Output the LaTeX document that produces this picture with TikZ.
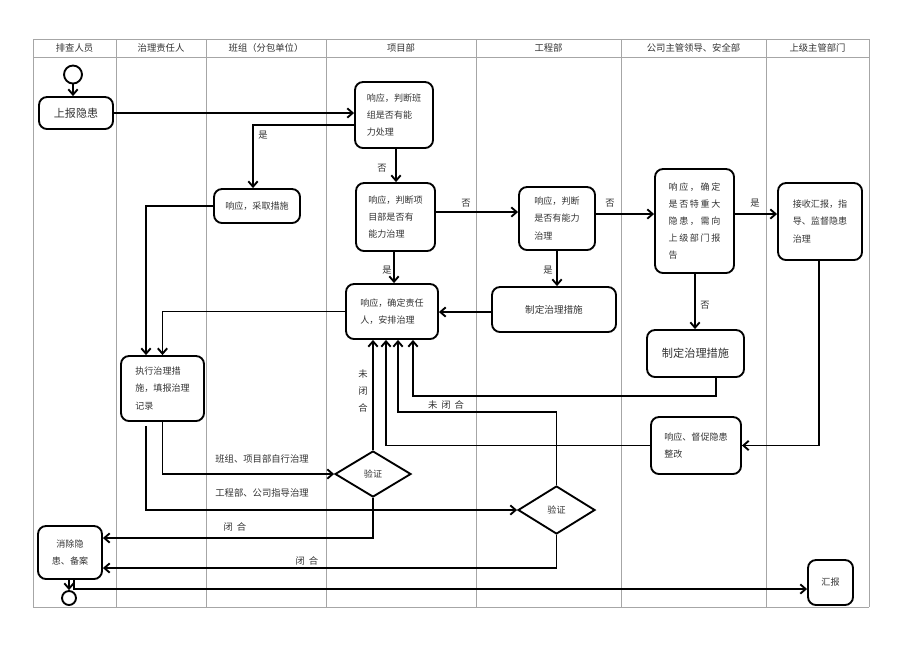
\documentclass[tikz,border=0pt]{standalone}
\usepackage{fontspec}
\setmainfont{Noto Sans CJK SC}
\newfontfamily\spaced[LetterSpace=18]{Noto Sans CJK SC}
\usetikzlibrary{arrows.meta,shapes.geometric}

\begin{document}
\begin{tikzpicture}[x=0.75pt,y=-0.75pt,
    >={Straight Barb[length=4pt,width=7pt]},
    lane/.style={draw=gray!70,line width=0.7pt},
    flow/.style={line width=1.4pt},
    box/.style={draw,rounded corners=6pt,line width=1.4pt,align=left,inner sep=1pt,text=black!80,font=\fontsize{6.8}{13}\selectfont},
    check/.style={draw,diamond,line width=1.4pt,inner sep=0pt,text=black!80,font=\fontsize{6.8}{8}\selectfont},
    dot/.style={draw,circle,line width=1.4pt,inner sep=0pt},
    lbl/.style={text=black!80,font=\fontsize{7}{8}\selectfont,inner sep=1pt}]

	\useasboundingbox (0,0) rectangle (920,651);
	\foreach \x in {33,116,206,326,476,621,766,869}
		\draw[lane] (\x,39) -- (\x,607);
	\foreach \y in {39,57,607}
		\draw[lane] (33,\y) -- (869,\y);
	\foreach \x/\t [count=\i] in {74.5/排查人员,161/治理责任人,266/班组（分包单位）,401/项目部,548.5/工程部,693.5/公司主管领导、安全部,817.5/上级主管部门}
		\node[lbl] (head\i) at (\x,48) {\t};

	\node[dot,minimum size=13.5pt] (start) at (73,74.5) {};
	\node[box,align=center,minimum width=55.5pt,minimum height=24pt,font=\fontsize{8.3}{10}\selectfont] (report) at (76,113) {上报隐患};
	\node[box,minimum width=58.5pt,minimum height=49.5pt] (teamcheck) at (394,115) {响应，判断班\\组是否有能\\力处理};
	\node[box,align=center,minimum width=64.5pt,minimum height=25.5pt] (teamact) at (257,206) {响应，采取措施};
	\node[box,minimum width=59.25pt,minimum height=51pt] (projcheck) at (395.5,217) {响应，判断项\\目部是否有\\能力治理};
	\node[box,minimum width=69pt,minimum height=41.25pt] (assign) at (392,311.5) {响应，确定责任\\人，安排治理};
	\node[box,minimum width=57pt,minimum height=47.25pt] (engcheck) at (557,218.5) {响应，判断\\是否有能力\\治理};
	\node[box,align=center,minimum width=93pt,minimum height=33.75pt,font=\fontsize{7.2}{9}\selectfont] (engplan) at (554,309.5) {制定治理措施};
	\node[box,minimum width=59.25pt,minimum height=78pt,font=\spaced\fontsize{6.8}{12.75}\selectfont] (major) at (694.5,221) {响应，确定\\是否特重大\\隐患，需向\\上级部门报\\告};
	\node[box,align=center,minimum width=72.75pt,minimum height=35.25pt,font=\fontsize{8.4}{10}\selectfont] (compplan) at (695.5,353.5) {制定治理措施};
	\node[box,minimum width=67.5pt,minimum height=42.75pt] (urge) at (696,445.5) {响应、督促隐患\\整改};
	\node[box,minimum width=63pt,minimum height=57.75pt] (superior) at (820,221.5) {接收汇报，指\\导、监督隐患\\治理};
	\node[box,minimum width=62.25pt,minimum height=48.75pt] (execute) at (162.5,388.5) {执行治理措\\施，填报治理\\记录};
	\node[check,minimum width=57pt,minimum height=34.5pt] (verify1) at (373,474) {验证};
	\node[check,minimum width=57.75pt,minimum height=36pt] (verify2) at (556.5,510) {验证};
	\node[box,align=center,minimum width=48pt,minimum height=39.75pt] (close) at (70,552.5) {消除隐\\患、备案};
	\node[dot,minimum size=10.5pt] (stop) at (69,598) {};
	\node[box,align=center,minimum width=33.75pt,minimum height=33.75pt] (summary) at (830.5,582.5) {汇报};

	\draw[flow,->] (start) -- (start |- report.north);
	\draw[flow,->] (report.east) -- (report.east -| teamcheck.west);
	\draw[flow,->] (teamcheck.west |- 0,125) -| (teamact.north -| 253,0);
	\draw[flow,->] (teamcheck.south -| 396,0) -- (projcheck.north -| 396,0);
	\draw[flow,->] (projcheck.east |- 0,212) -- (engcheck.west |- 0,212);
	\draw[flow,->] (engcheck.east |- 0,214) -- (major.west |- 0,214);
	\draw[flow,->] (major.east |- 0,214) -- (superior.west |- 0,214);
	\draw[flow,->] (projcheck.south -| 394,0) -- (assign.north -| 394,0);
	\draw[flow,->] (engcheck.south -| 557,0) -- (engplan.north -| 557,0);
	\draw[flow,->] (engplan.west |- 0,312) -- (assign.east |- 0,312);
	\draw[flow,->] (major.south -| 695,0) -- (compplan.north -| 695,0);
	\draw[flow,->] (superior.south -| 819,0) |- (urge.east);
	\draw[flow,->] (urge.west) -| (assign.south -| 386,0);
	\draw[flow,->] (compplan.south -| 716,0) |- (413,396) -- (assign.south -| 413,0);
	\draw[flow,->] (verify2.north) |- (398,412) -- (assign.south -| 398,0);
	\draw[flow,->] (verify1.north) -- (assign.south -| verify1.north);
	\draw[flow,->] (assign.west) -| (execute.north);
	\draw[flow,->] (teamact.west) -| (execute.north -| 146,0);
	\draw[flow,->] (execute.south) |- (verify1.west);
	\draw[flow,->,shorten <=3pt] (execute.south -| 146,0) |- (verify2.west);
	\draw[flow,->] (verify1.south) |- (close.east |- 0,538);
	\draw[flow,->] (verify2.south) |- (close.east |- 0,568);
	\draw[flow,->] (close.south -| stop.north) -- (stop.north);
	\draw[flow,->] (close.south -| 74,0) |- (summary.west |- 0,589);

	\node[lbl] (yes1) at (263,135) {是};
	\node[lbl] (no1) at (382,168) {否};
	\node[lbl] (no2) at (466,203) {否};
	\node[lbl] (no3) at (610,203) {否};
	\node[lbl] (yes2) at (755,203) {是};
	\node[lbl] (yes3) at (387,270) {是};
	\node[lbl] (yes4) at (548,270) {是};
	\node[lbl] (no4) at (705,305) {否};
	\node[lbl,align=center,font=\fontsize{7}{13}\selectfont] (open1) at (363,391) {未\\闭\\合};
	\node[lbl] (open2) at (446,405) {未\hspace{3pt}闭\hspace{3pt}合};
	\node[lbl] (self) at (262,459) {班组、项目部自行治理};
	\node[lbl] (guide) at (262,493) {工程部、公司指导治理};
	\node[lbl] (shut1) at (235,527) {闭\hspace{3pt}合};
	\node[lbl] (shut2) at (307,561) {闭\hspace{3pt}合};
\end{tikzpicture}
\end{document}
